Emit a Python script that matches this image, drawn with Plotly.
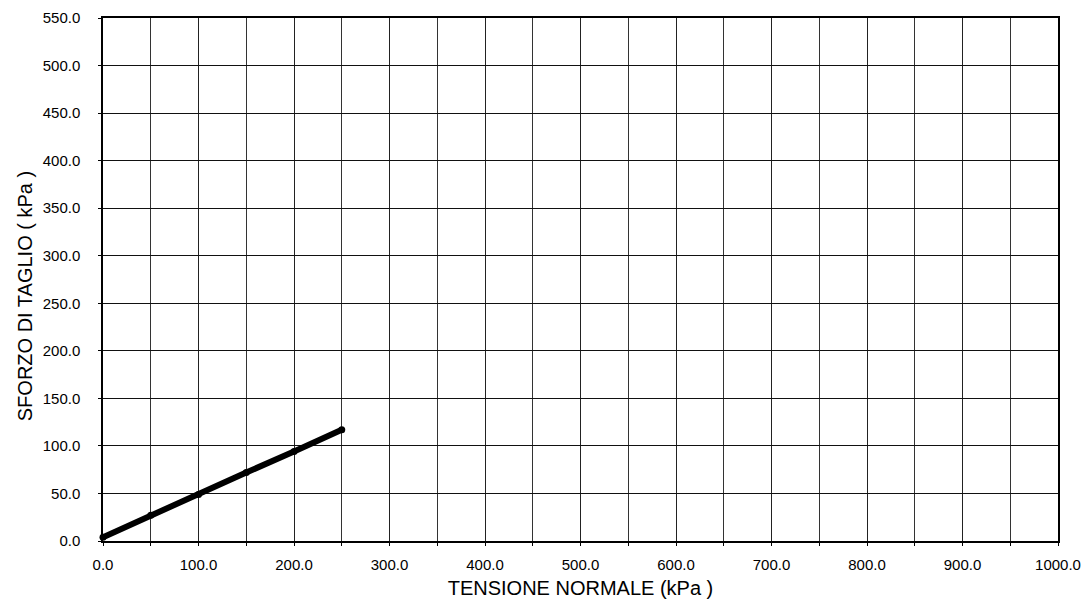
import plotly.graph_objects as go

# normal stress (kPa) vs shear stress (kPa)
tensione = [0, 50, 100, 150, 200, 250]
sforzo = [4, 27, 49, 72, 94, 117]

x_ticks = [0, 100, 200, 300, 400, 500, 600, 700, 800, 900, 1000]
y_ticks = [0, 50, 100, 150, 200, 250, 300, 350, 400, 450, 500, 550]

fig = go.Figure()
fig.add_trace(go.Scatter(
    x=tensione, y=sforzo, mode="lines+markers",
    line=dict(color="black", width=6),
    marker=dict(color="black", size=7),
    showlegend=False, cliponaxis=False,
))

font_name = "Liberation Sans, Arial, sans-serif"
axis_font = dict(family=font_name, size=15, color="black")

fig.update_xaxes(
    range=[0, 1000], tickvals=x_ticks, ticktext=[f"{v:.1f}" for v in x_ticks],
    showgrid=True, gridcolor="#222", gridwidth=1,
    minor=dict(dtick=50, showgrid=True, gridcolor="#333", gridwidth=1, ticks="outside", ticklen=3, tickcolor="black"),
    showline=True, linecolor="black", linewidth=1.5, mirror=True,
    ticks="outside", ticklen=3, tickcolor="black", zeroline=False,
    tickfont=axis_font, ticklabelstandoff=6, ticklabeloverflow="allow", automargin=False,
    title=dict(text="TENSIONE NORMALE (kPa )", font=dict(family=font_name, size=20, color="black"), standoff=9),
)
fig.update_yaxes(
    range=[0, 550], tickvals=y_ticks, ticktext=[f"{v:.1f}" for v in y_ticks],
    showgrid=True, gridcolor="#111", gridwidth=1.3,
    showline=True, linecolor="black", linewidth=1.5, mirror=True,
    ticks="outside", ticklen=3, tickcolor="black", zeroline=False,
    tickfont=axis_font, ticklabelstandoff=15, ticklabeloverflow="allow", automargin=False,
)

# y title placed as annotation (it sits a bit below the axis centre in the original)
fig.add_annotation(
    text="SFORZO DI TAGLIO ( kPa )", textangle=-90,
    xref="paper", yref="paper", x=0, y=0.468, xanchor="center", yanchor="middle",
    xshift=-78, showarrow=False,
    font=dict(family=font_name, size=20, color="black"),
)

fig.update_layout(
    width=1083, height=603,
    margin=dict(l=103, r=25, t=18, b=62, autoexpand=False),
    plot_bgcolor="white", paper_bgcolor="white",
)

# drop the default body margin so the figure fills the window exactly
fig.write_html(
    "out.html",
    config={"displayModeBar": False},
    post_script="document.body.style.margin='0';document.body.style.overflow='hidden';",
)
